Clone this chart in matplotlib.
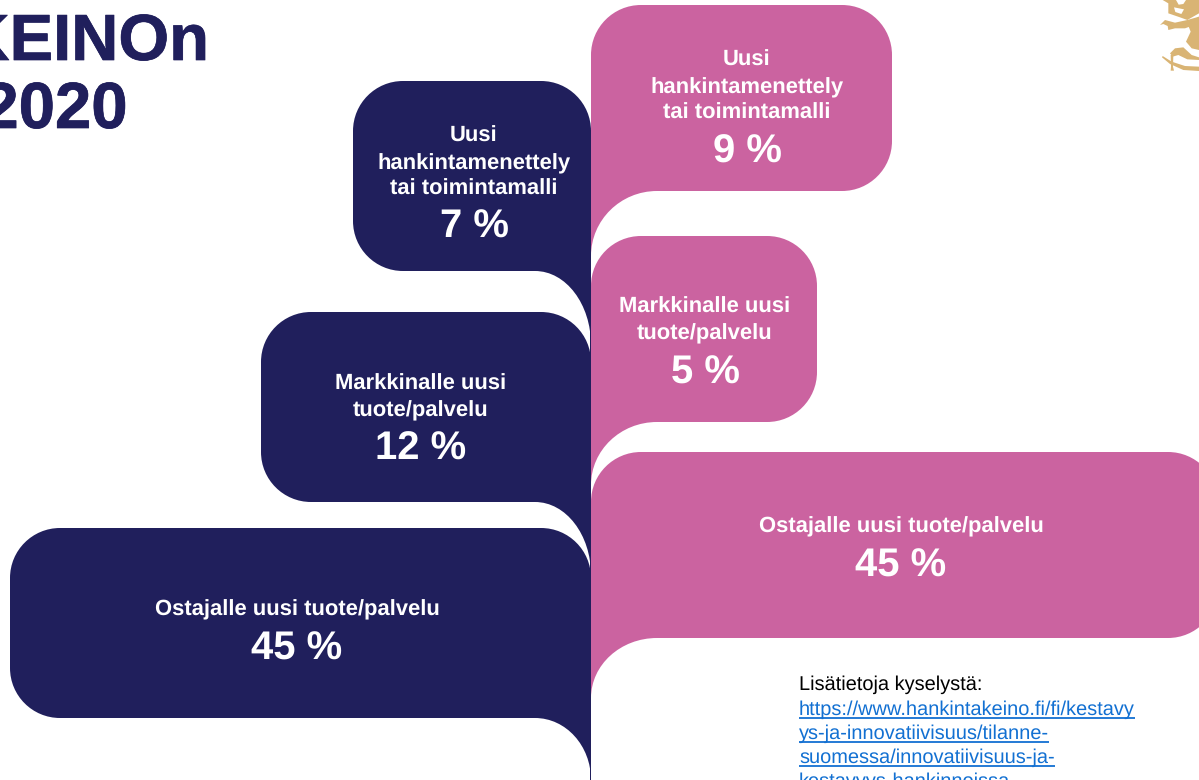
import matplotlib
matplotlib.use('Agg')
import matplotlib.pyplot as plt
import matplotlib.patheffects as pe
from matplotlib.patches import PathPatch, Polygon
from matplotlib.path import Path

plt.rcParams['font.family'] = ['Liberation Sans', 'DejaVu Sans']
plt.rcParams['text.hinting'] = 'no_hinting'
plt.rcParams['text.hinting_factor'] = 1

NAVY = '#201F5C'
PINK = '#CB63A0'
GOLD = '#D9B474'
LINK = '#1270D2'

# Chart values
left_labels = ['Uusi\nhankintamenettely\ntai toimintamalli', 'Markkinalle uusi\ntuote/palvelu', 'Ostajalle uusi tuote/palvelu']
left_values = [7, 12, 45]
right_labels = ['Uusi\nhankintamenettely\ntai toimintamalli', 'Markkinalle uusi\ntuote/palvelu', 'Ostajalle uusi tuote/palvelu']
right_values = [9, 5, 45]

link_lines = ['https://www.hankintakeino.fi/fi/kestavy', 'ys-ja-innovatiivisuus/tilanne-',
              'suomessa/innovatiivisuus-ja-', 'kestavyys-hankinnoissa']

fig = plt.figure(figsize=(11.99, 7.80), dpi=100)
ax = fig.add_axes([0, 0, 1, 1])
ax.set_xlim(0, 1199)
ax.set_ylim(780, 0)
ax.axis('off')

SPINE = 591
K = 0.5523


def bubble(outer, top, bottom, tip, color, r=50, tail_w=60):
    # speech bubble with a tail that runs into the centre spine
    s = 1 if outer > SPINE else -1
    c = r * K
    verts = [(SPINE, top + r),
             (SPINE, top + r - c), (SPINE + s * (r - c), top), (SPINE + s * r, top),
             (outer - s * r, top),
             (outer - s * (r - c), top), (outer, top + r - c), (outer, top + r),
             (outer, bottom - r),
             (outer, bottom - r + c), (outer - s * (r - c), bottom), (outer - s * r, bottom),
             (SPINE + s * tail_w, bottom),
             (SPINE + s * tail_w * (1 - K), bottom), (SPINE, tip - (tip - bottom) * K), (SPINE, tip),
             (SPINE, top + r)]
    codes = [Path.MOVETO, Path.CURVE4, Path.CURVE4, Path.CURVE4, Path.LINETO,
             Path.CURVE4, Path.CURVE4, Path.CURVE4, Path.LINETO,
             Path.CURVE4, Path.CURVE4, Path.CURVE4, Path.LINETO,
             Path.CURVE4, Path.CURVE4, Path.CURVE4, Path.CLOSEPOLY]
    ax.add_patch(PathPatch(Path(verts, codes), facecolor=color, edgecolor='none', zorder=2))


# centre spines
ax.fill_betweenx([130, 780], SPINE - 1, SPINE, color=NAVY, lw=0, zorder=1)

bubble(353, 81, 271, 345, NAVY, tail_w=56)
bubble(261, 312, 502, 575, NAVY, tail_w=56)
bubble(10, 528, 718, 780, NAVY, tail_w=56)
bubble(892, 5, 191, 256, PINK, tail_w=66)
bubble(817, 236, 422, 485, PINK, tail_w=66)
bubble(1218, 452, 638, 698, PINK, tail_w=66)


def label(x, baselines, pct_base, text, value):
    for y, line in zip(baselines, text.split('\n')):
        ax.text(x, y, line, color='white', fontsize=15.7, fontweight='bold', ha='center', va='baseline', zorder=3)
    ax.text(x, pct_base, f'{value} %', color='white', fontsize=28.5, fontweight='bold', ha='center', va='baseline', zorder=3)


label(474, [142, 169, 195], 238, left_labels[0], left_values[0])
label(421, [390, 416], 460, left_labels[1], left_values[1])
label(297, [615], 660, left_labels[2], left_values[2])
label(747, [66, 93, 119], 163, right_labels[0], right_values[0])
label(705, [313, 339], 384, right_labels[1], right_values[1])
label(901, [532], 577, right_labels[2], right_values[2])

# slide title, cut off by the page edge
heavy = [pe.withStroke(linewidth=0.5, foreground=NAVY)]
ax.text(208, 60, 'KEINOn', color=NAVY, fontsize=47, fontweight='bold', ha='right', va='baseline', path_effects=heavy)
ax.text(127, 128, '2020', color=NAVY, fontsize=47, fontweight='bold', ha='right', va='baseline', path_effects=heavy)
ax.text(632, -9, 'j', color=NAVY, fontsize=32, fontweight='bold', ha='center', va='baseline')

# source note
ax.text(799, 690, 'Lisätietoja kyselystä:', color='black', fontsize=14.45, va='baseline')
fig.canvas.draw()
for y, line in zip([715, 739, 763, 787], link_lines):
    t = ax.text(799, y, line, color=LINK, fontsize=14.45, va='baseline')
    w = t.get_window_extent().width
    ax.plot([799, 799 + w], [y + 3, y + 3], color=LINK, lw=1.3, solid_capstyle='butt')

# lion emblem in the corner, rough outline (points read from a 3x crop)
head = [(188, 0), (297, 0), (297, 40), (262, 60), (240, 52), (205, 40), (205, 10)]
arm = [(180, 75), (195, 60), (225, 68), (262, 60), (297, 50), (297, 70), (255, 85), (225, 85), (205, 90), (203, 78), (190, 72)]
body = [(297, 50), (297, 150), (275, 145), (258, 125), (272, 95), (262, 70)]
leg = [(210, 160), (225, 145), (250, 142), (275, 165), (297, 172), (297, 180), (262, 178), (235, 165), (218, 170)]
sabre = [(188, 168), (215, 185), (255, 198), (297, 200), (297, 213), (250, 210), (210, 192), (186, 172)]
hilt = [(212, 165), (220, 165), (219, 200), (222, 212), (212, 212), (213, 200)]
for shape in (head, arm, body, leg, sabre, hilt):
    ax.add_patch(Polygon([(1100 + x / 3, y / 3) for x, y in shape], closed=True, facecolor=GOLD, edgecolor='none'))
# white marks in the face
for shape in ([(228, 0), (258, 0), (250, 12), (236, 14)], [(222, 22), (252, 28), (244, 42), (226, 36)]):
    ax.add_patch(Polygon([(1100 + x / 3, y / 3) for x, y in shape], closed=True, facecolor='white', edgecolor='none'))

fig.savefig('out.png', dpi=100, facecolor='white')
